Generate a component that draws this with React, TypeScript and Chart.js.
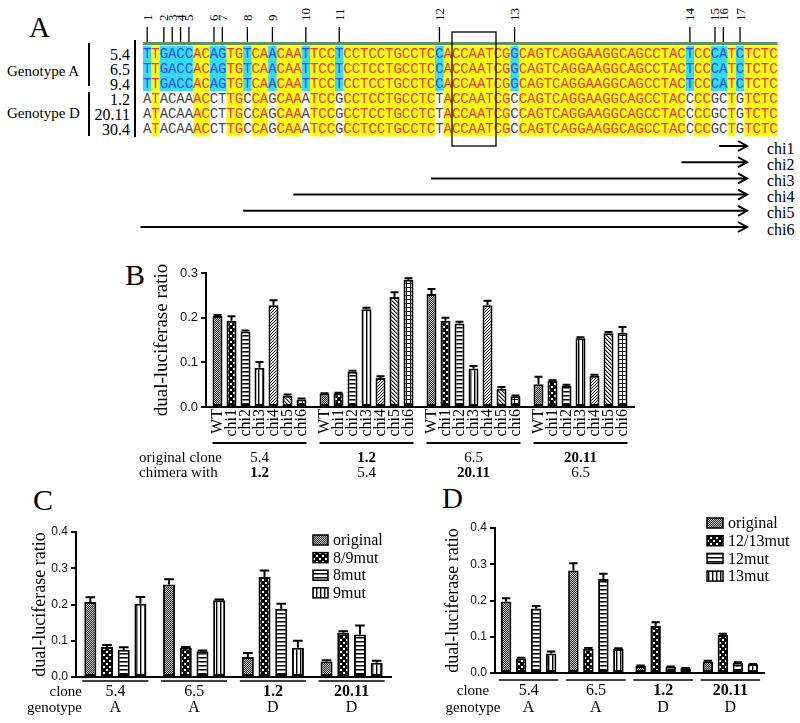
import React, { useEffect, useRef } from "react";
import { Chart, registerables } from "chart.js";
Chart.register(...registerables);

const SERIF = '"Liberation Serif", "Times New Roman", serif';
const SANS = '"Liberation Sans", Arial, sans-serif';
const MONO = '"Liberation Mono", "Courier New", monospace';

// ---------------- Panel A data ----------------
const SEQ_GENO_A = ["TTGACCACAGTGTCAACAATTCCT", "CCTCCTGCCTC", "C", "ACCAATCG", "G", "CAGTCAGGAAGGCAGCCTAC", "T", "CC", "CA", "T", "C", "TCTC"].join("");
const SEQ_GENO_D = ["ATACAAACCTTGCCAGCAAATCCG", "CCTCCTGCCTC", "T", "ACCAATCG", "C", "CAGTCAGGAAGGCAGCCTAC", "C", "CC", "GC", "T", "G", "TCTC"].join("");
const ROW_NAMES = ["5.4", "6.5", "9.4", "1.2", "20.11", "30.4"];
const ROW_GENOTYPES = ["A", "A", "A", "D", "D", "D"];
const GENOTYPE_LABELS = ["Genotype A", "Genotype D"];
const CHI_NAMES = ["chi1", "chi2", "chi3", "chi4", "chi5", "chi6"];
const CHI_FROM = [69, 64.5, 34.5, 18, 12, -0.3]; // sequence column where each chimera starts

// ---------------- Panel B data ----------------
const B_CLONE = ["5.4", "1.2", "6.5", "20.11"];
const B_CHIMERA = ["1.2", "5.4", "20.11", "6.5"];
const B_CLONE_BOLD = [false, true, false, true];
const B_SERIES = ["WT", "chi1", "chi2", "chi3", "chi4", "chi5", "chi6"];
const B_WT = [0.204, 0.030, 0.253, 0.051];
const B_CHI1 = [0.193, 0.031, 0.193, 0.058];
const B_CHI2 = [0.169, 0.079, 0.187, 0.047];
const B_CHI3 = [0.088, 0.219, 0.086, 0.154];
const B_CHI4 = [0.228, 0.065, 0.228, 0.070];
const B_CHI5 = [0.025, 0.246, 0.041, 0.165];
const B_CHI6 = [0.017, 0.285, 0.024, 0.166];
const B_WT_ERR = [0.002, 0.001, 0.011, 0.017];
const B_CHI1_ERR = [0.010, 0.001, 0.007, 0.002];
const B_CHI2_ERR = [0.002, 0.002, 0.004, 0.003];
const B_CHI3_ERR = [0.013, 0.003, 0.006, 0.002];
const B_CHI4_ERR = [0.011, 0.004, 0.010, 0.002];
const B_CHI5_ERR = [0.003, 0.011, 0.004, 0.003];
const B_CHI6_ERR = [0.002, 0.003, 0.002, 0.013];

// ---------------- Panel C data ----------------
const CD_CLONE = ["5.4", "6.5", "1.2", "20.11"];
const CD_CLONE_BOLD = [false, false, true, true];
const CD_GENOTYPE = ["A", "A", "D", "D"];
const C_SERIES = ["original", "8/9mut", "8mut", "9mut"];
const C_ORIGINAL = [0.207, 0.255, 0.055, 0.043];
const C_MUT89 = [0.083, 0.081, 0.276, 0.122];
const C_MUT8 = [0.075, 0.071, 0.188, 0.117];
const C_MUT9 = [0.202, 0.212, 0.081, 0.039];
const C_ORIGINAL_ERR = [0.013, 0.015, 0.011, 0.003];
const C_MUT89_ERR = [0.005, 0.002, 0.018, 0.004];
const C_MUT8_ERR = [0.007, 0.002, 0.014, 0.025];
const C_MUT9_ERR = [0.019, 0.002, 0.019, 0.006];

// ---------------- Panel D data ----------------
const D_SERIES = ["original", "12/13mut", "12mut", "13mut"];
const D_ORIGINAL = [0.197, 0.283, 0.019, 0.032];
const D_MUT1213 = [0.040, 0.067, 0.130, 0.105];
const D_MUT12 = [0.178, 0.259, 0.017, 0.028];
const D_MUT13 = [0.054, 0.066, 0.013, 0.024];
const D_ORIGINAL_ERR = [0.009, 0.020, 0.002, 0.002];
const D_MUT1213_ERR = [0.002, 0.002, 0.010, 0.003];
const D_MUT12_ERR = [0.007, 0.015, 0.001, 0.002];
const D_MUT13_ERR = [0.005, 0.002, 0.001, 0.001];

const PATTERNS_B = ["fine", "checker", "hstripe", "vstripe", "diag", "diag2", "grid"];
const PATTERNS_CD = ["fine", "checker", "hstripe", "vstripe"];

function makePattern(kind: string): any {
  const c = document.createElement("canvas");
  const size = kind === "diag" ? 3 : kind === "checker" ? 6 : 4;
  c.width = size;
  c.height = size;
  const g = c.getContext("2d")!;
  g.fillStyle = "#fff";
  g.fillRect(0, 0, size, size);
  const px = (x: number, y: number, col: string) => {
    g.fillStyle = col;
    g.fillRect(x, y, 1, 1);
  };
  if (kind === "fine") {
    for (let y = 0; y < 4; y++) for (let x = 0; x < 4; x++) px(x, y, (x + y) % 2 === 0 ? "#2a2a2a" : "#c8c8c8");
  } else if (kind === "checker") {
    g.fillStyle = "#000";
    g.fillRect(0, 0, 6, 6);
    g.fillStyle = "#fff";
    g.fillRect(1, 1, 2, 2);
    g.fillRect(4, 4, 2, 2);
  } else if (kind === "hstripe") {
    for (let x = 0; x < 4; x++) { px(x, 0, "#000"); px(x, 1, "#777"); }
  } else if (kind === "vstripe") {
    for (let y = 0; y < 4; y++) { px(0, y, "#000"); px(1, y, "#999"); }
  } else if (kind === "diag") {
    px(2, 0, "#000"); px(1, 1, "#000"); px(0, 2, "#000");
  } else if (kind === "diag2") {
    for (let i = 0; i < 4; i++) { px(i, i, "#000"); px((i + 1) % 4, i, "#888"); }
  } else if (kind === "grid") {
    for (let i = 0; i < 4; i++) { px(i, 0, "#000"); px(0, i, "#000"); }
  }
  return g.createPattern(c, "repeat");
}

function errorPlugin(errors: number[][]) {
  return {
    id: "errorbars",
    afterDatasetsDraw(chart: any) {
      const ctx = chart.ctx;
      const ys = chart.scales.y;
      ctx.save();
      ctx.strokeStyle = "#000";
      ctx.lineWidth = 2;
      chart.data.datasets.forEach((ds: any, k: number) => {
        chart.getDatasetMeta(k).data.forEach((bar: any, i: number) => {
          const v = ds.data[i];
          const e = errors[k][i];
          const y0 = ys.getPixelForValue(v);
          const y1 = ys.getPixelForValue(v + e);
          const hw = bar.width * 0.4;
          ctx.beginPath();
          ctx.moveTo(bar.x, y0);
          ctx.lineTo(bar.x, y1);
          ctx.moveTo(bar.x - hw, y1);
          ctx.lineTo(bar.x + hw, y1);
          ctx.stroke();
        });
      });
      ctx.restore();
    },
  };
}

type Spec = {
  left: number; top: number; width: number; height: number;
  area: { left: number; right: number; top: number; bottom: number };
  categories: string[];
  seriesNames: string[];
  values: number[][];
  errors: number[][];
  patterns: string[];
  yMax: number;
  tickFont: number;
  titleFont: number;
  titleX: number;
  catPct: number;
  barPct: number;
  extra: (chart: any, pats: any[]) => void;
};

function BarPanel({ spec }: { spec: Spec }) {
  const ref = useRef<HTMLCanvasElement>(null);
  useEffect(() => {
    const s = spec;
    const pats = s.patterns.map(makePattern);
    const chart = new Chart(ref.current!, {
      type: "bar",
      data: {
        labels: s.categories,
        datasets: s.seriesNames.map((name, k) => ({
          label: name,
          data: s.values[k],
          backgroundColor: pats[k],
          borderColor: "#000",
          borderWidth: 2,
          borderSkipped: false,
          categoryPercentage: s.catPct,
          barPercentage: s.barPct,
        })),
      },
      options: {
        responsive: false,
        animation: false,
        devicePixelRatio: 1,
        events: [],
        layout: { padding: { left: 0, top: s.area.top, right: s.width - s.area.right, bottom: 0 } },
        plugins: { legend: { display: false }, tooltip: { enabled: false } },
        scales: {
          x: {
            type: "category",
            offset: true,
            grid: { display: false },
            ticks: { display: false },
            border: { display: true, color: "#000", width: 2 },
            afterFit: (sc: any) => { sc.height = s.height - s.area.bottom; },
          },
          y: {
            min: 0,
            max: s.yMax,
            ticks: {
              stepSize: 0.1,
              font: { family: SANS, size: s.tickFont },
              color: "#111",
              padding: 3,
              callback: (v: any) => Number(v).toFixed(1),
            },
            grid: { display: true, drawOnChartArea: false, drawTicks: true, tickLength: 5, color: "#000", lineWidth: 2 },
            border: { display: true, color: "#000", width: 2 },
            title: {
              display: true,
              text: "dual-luciferase ratio",
              font: { family: SERIF, size: s.titleFont },
              color: "#000",
              padding: { top: s.titleX - s.titleFont * 0.6, bottom: 0 },
            },
            afterFit: (sc: any) => { sc.width = s.area.left; },
          },
        },
      } as any,
      plugins: [errorPlugin(s.errors), { id: "extra", afterDraw: (c: any) => s.extra(c, pats) }],
    });
    return () => chart.destroy();
  }, []);
  return (
    <canvas
      ref={ref}
      width={spec.width}
      height={spec.height}
      style={{ position: "absolute", left: spec.left, top: spec.top, width: spec.width, height: spec.height }}
    />
  );
}

function bExtra(chart: any) {
  const ctx = chart.ctx;
  const a = chart.chartArea;
  const metas = B_SERIES.map((_, k) => chart.getDatasetMeta(k));
  ctx.save();
  ctx.fillStyle = "#000";
  ctx.strokeStyle = "#000";
  ctx.font = `16px ${SERIF}`;
  ctx.textAlign = "right";
  ctx.textBaseline = "middle";
  metas.forEach((m: any, k: number) =>
    m.data.forEach((bar: any) => {
      ctx.save();
      ctx.translate(bar.x, a.bottom + 2);
      ctx.rotate(-Math.PI / 2);
      ctx.fillText(B_SERIES[k], 0, 0);
      ctx.restore();
    })
  );
  const first = metas[0];
  const last = metas[metas.length - 1];
  B_CLONE.forEach((g, i) => {
    const b0 = first.data[i];
    const b1 = last.data[i];
    const x0 = b0.x - b0.width / 2;
    const x1 = b1.x + b1.width / 2;
    ctx.lineWidth = 2;
    ctx.beginPath();
    ctx.moveTo(x0, a.bottom + 36);
    ctx.lineTo(x1, a.bottom + 36);
    ctx.stroke();
    const cx = (x0 + x1) / 2;
    ctx.textAlign = "center";
    ctx.font = `${B_CLONE_BOLD[i] ? "bold " : ""}15px ${SERIF}`;
    ctx.fillText(g, cx, a.bottom + 51);
    ctx.font = `${!B_CLONE_BOLD[i] ? "bold " : ""}15px ${SERIF}`;
    ctx.fillText(B_CHIMERA[i], cx, a.bottom + 66);
  });
  ctx.textAlign = "left";
  ctx.font = `15px ${SERIF}`;
  ctx.fillText("original clone", 9, a.bottom + 51);
  ctx.fillText("chimera with", 9, a.bottom + 66);
  ctx.restore();
}

function cdExtra(cfg: {
  seriesNames: string[]; lineDy: number; row1Dy: number; row2Dy: number;
  headX: number; headAlign: string;
  legend: { bx: number; bw: number; tx: number; y0: number; dy: number };
}) {
  return (chart: any, pats: any[]) => {
    const ctx = chart.ctx;
    const a = chart.chartArea;
    const metas = cfg.seriesNames.map((_, k) => chart.getDatasetMeta(k));
    ctx.save();
    ctx.fillStyle = "#000";
    ctx.strokeStyle = "#000";
    ctx.textBaseline = "middle";
    CD_CLONE.forEach((g, i) => {
      const b0 = metas[0].data[i];
      const b1 = metas[metas.length - 1].data[i];
      const x0 = b0.x - b0.width / 2 - 2;
      const x1 = b1.x + b1.width / 2 + 2;
      ctx.lineWidth = 1.5;
      ctx.beginPath();
      ctx.moveTo(x0, a.bottom + cfg.lineDy);
      ctx.lineTo(x1, a.bottom + cfg.lineDy);
      ctx.stroke();
      const cx = (x0 + x1) / 2;
      ctx.textAlign = "center";
      ctx.font = `${CD_CLONE_BOLD[i] ? "bold " : ""}16px ${SERIF}`;
      ctx.fillText(g, cx, a.bottom + cfg.row1Dy);
      ctx.font = `16px ${SERIF}`;
      ctx.fillText(CD_GENOTYPE[i], cx, a.bottom + cfg.row2Dy);
    });
    ctx.textAlign = cfg.headAlign;
    ctx.font = `15px ${SERIF}`;
    ctx.fillText("clone", cfg.headX, a.bottom + cfg.row1Dy);
    ctx.fillText("genotype", cfg.headX, a.bottom + cfg.row2Dy);
    const L = cfg.legend;
    cfg.seriesNames.forEach((name, k) => {
      const y = L.y0 + k * L.dy;
      ctx.fillStyle = pats[k];
      ctx.fillRect(L.bx, y - 5, L.bw, 10);
      ctx.lineWidth = 1.5;
      ctx.strokeRect(L.bx, y - 5, L.bw, 10);
      ctx.fillStyle = "#000";
      ctx.textAlign = "left";
      ctx.font = `16px ${SERIF}`;
      ctx.fillText(name, L.tx, y + 1);
    });
    ctx.restore();
  };
}

const CELL_W = 8.35;
const SEQ_X0 = 143;
const ROW_Y0 = 46;
const ROW_H = 15;

function PanelA() {
  const diffs = SEQ_GENO_A.split("").map((ch, i) => ch !== SEQ_GENO_D[i]);
  const markers = diffs.map((d, i) => (d ? i : -1)).filter((i) => i >= 0);
  const cells: any[] = [];
  const letters: any[] = [];
  ROW_NAMES.forEach((_, r) => {
    const isA = ROW_GENOTYPES[r] === "A";
    const seq = isA ? SEQ_GENO_A : SEQ_GENO_D;
    const top = ROW_Y0 + r * ROW_H;
    seq.split("").forEach((ch, i) => {
      const d = diffs[i];
      const bg = d ? (isA ? "#35dcf2" : "#ffffff") : "#ffff14";
      const fg = d ? (isA ? "#1f50f5" : "#4a4a4a") : "#f0361e";
      const x = SEQ_X0 + i * CELL_W;
      cells.push(<rect key={`c${r}-${i}`} x={x} y={top} width={CELL_W + 0.4} height={ROW_H + 0.4} fill={bg} />);
      letters.push(
        <text key={`l${r}-${i}`} x={x + CELL_W / 2} y={top + ROW_H / 2 + 0.5} textAnchor="middle" dominantBaseline="central"
          fontFamily={MONO} fontSize={14} fill={fg}>{ch}</text>
      );
    });
  });
  const seqEnd = SEQ_X0 + SEQ_GENO_A.length * CELL_W;
  return (
    <g>
      <text x={29} y={37} fontFamily={SERIF} fontSize={29}>A</text>
      {markers.map((idx, k) => {
        const cx = SEQ_X0 + (idx + 0.5) * CELL_W;
        return (
          <g key={`m${k}`}>
            <line x1={cx} x2={cx} y1={27} y2={42} stroke="#000" strokeWidth={1.3} />
            <text transform={`translate(${cx},21) rotate(-90)`} dominantBaseline="central" fontFamily={SERIF} fontSize={13}>{k + 1}</text>
          </g>
        );
      })}
      <rect x={SEQ_X0} y={42} width={seqEnd - SEQ_X0} height={3} fill="#5e955e" />
      {cells}
      {letters}
      {ROW_NAMES.map((n, r) => (
        <text key={`rn${r}`} x={130} y={ROW_Y0 + r * ROW_H + ROW_H / 2 + 0.5} textAnchor="end" dominantBaseline="central" fontFamily={SERIF} fontSize={16}>{n}</text>
      ))}
      <text x={7} y={71} dominantBaseline="central" fontFamily={SERIF} fontSize={15}>{GENOTYPE_LABELS[0]}</text>
      <text x={7} y={113} dominantBaseline="central" fontFamily={SERIF} fontSize={15}>{GENOTYPE_LABELS[1]}</text>
      <line x1={89} x2={89} y1={43} y2={86} stroke="#000" strokeWidth={2} />
      <line x1={89} x2={89} y1={92} y2={136} stroke="#000" strokeWidth={2} />
      <line x1={135} x2={135} y1={40} y2={137} stroke="#000" strokeWidth={2} />
      <rect x={452} y={32} width={44} height={114} fill="none" stroke="#000" strokeWidth={1.3} />
      {CHI_NAMES.map((n, k) => {
        const y = 146 + k * 16.2;
        const x1 = SEQ_X0 + CHI_FROM[k] * CELL_W;
        const x2 = 747;
        return (
          <g key={`chi${k}`}>
            <line x1={x1} x2={x2} y1={y} y2={y} stroke="#000" strokeWidth={2} />
            <path d={`M${x2 - 9} ${y - 5} L${x2} ${y} L${x2 - 9} ${y + 5}`} fill="none" stroke="#000" strokeWidth={2} />
            <text x={767} y={y + 2} dominantBaseline="central" fontFamily={SERIF} fontSize={16}>{n}</text>
          </g>
        );
      })}
    </g>
  );
}

const SPEC_B: Spec = {
  left: 130, top: 235, width: 530, height: 250,
  area: { left: 76, right: 504, top: 38, bottom: 172 },
  categories: B_CLONE,
  seriesNames: B_SERIES,
  values: [B_WT, B_CHI1, B_CHI2, B_CHI3, B_CHI4, B_CHI5, B_CHI6],
  errors: [B_WT_ERR, B_CHI1_ERR, B_CHI2_ERR, B_CHI3_ERR, B_CHI4_ERR, B_CHI5_ERR, B_CHI6_ERR],
  patterns: PATTERNS_B,
  yMax: 0.3,
  tickFont: 13,
  titleFont: 19,
  titleX: 32,
  catPct: 0.916,
  barPct: 0.714,
  extra: bExtra,
};

const SPEC_C: Spec = {
  left: 0, top: 485, width: 400, height: 238,
  area: { left: 76, right: 391, top: 47, bottom: 192 },
  categories: CD_CLONE,
  seriesNames: C_SERIES,
  values: [C_ORIGINAL, C_MUT89, C_MUT8, C_MUT9],
  errors: [C_ORIGINAL_ERR, C_MUT89_ERR, C_MUT8_ERR, C_MUT9_ERR],
  patterns: PATTERNS_CD,
  yMax: 0.4,
  tickFont: 12,
  titleFont: 18,
  titleX: 40,
  catPct: 0.848,
  barPct: 0.72,
  extra: cdExtra({
    seriesNames: C_SERIES, lineDy: 4, row1Dy: 15, row2Dy: 31, headX: 82, headAlign: "right",
    legend: { bx: 313, bw: 15, tx: 333, y0: 55, dy: 17.6 },
  }),
};

const SPEC_D: Spec = {
  left: 400, top: 485, width: 400, height: 238,
  area: { left: 95, right: 364, top: 43, bottom: 188 },
  categories: CD_CLONE,
  seriesNames: D_SERIES,
  values: [D_ORIGINAL, D_MUT1213, D_MUT12, D_MUT13],
  errors: [D_ORIGINAL_ERR, D_MUT1213_ERR, D_MUT12_ERR, D_MUT13_ERR],
  patterns: PATTERNS_CD,
  yMax: 0.4,
  tickFont: 12,
  titleFont: 18,
  titleX: 53,
  catPct: 0.892,
  barPct: 0.7,
  extra: cdExtra({
    seriesNames: D_SERIES, lineDy: 7, row1Dy: 18, row2Dy: 35, headX: 73, headAlign: "center",
    legend: { bx: 307, bw: 16, tx: 328, y0: 38, dy: 17.7 },
  }),
};

export default function App() {
  return (
    <div style={{ position: "absolute", left: 0, top: 0, width: 800, height: 723, background: "#fff", overflow: "hidden" }}>
      <svg width={800} height={723} style={{ position: "absolute", left: 0, top: 0 }}>
        <PanelA />
        <text x={125} y={285} fontFamily={SERIF} fontSize={30}>B</text>
        <text x={33} y={510} fontFamily={SERIF} fontSize={30}>C</text>
        <text x={442} y={508} fontFamily={SERIF} fontSize={29}>D</text>
      </svg>
      <BarPanel spec={SPEC_B} />
      <BarPanel spec={SPEC_C} />
      <BarPanel spec={SPEC_D} />
    </div>
  );
}
